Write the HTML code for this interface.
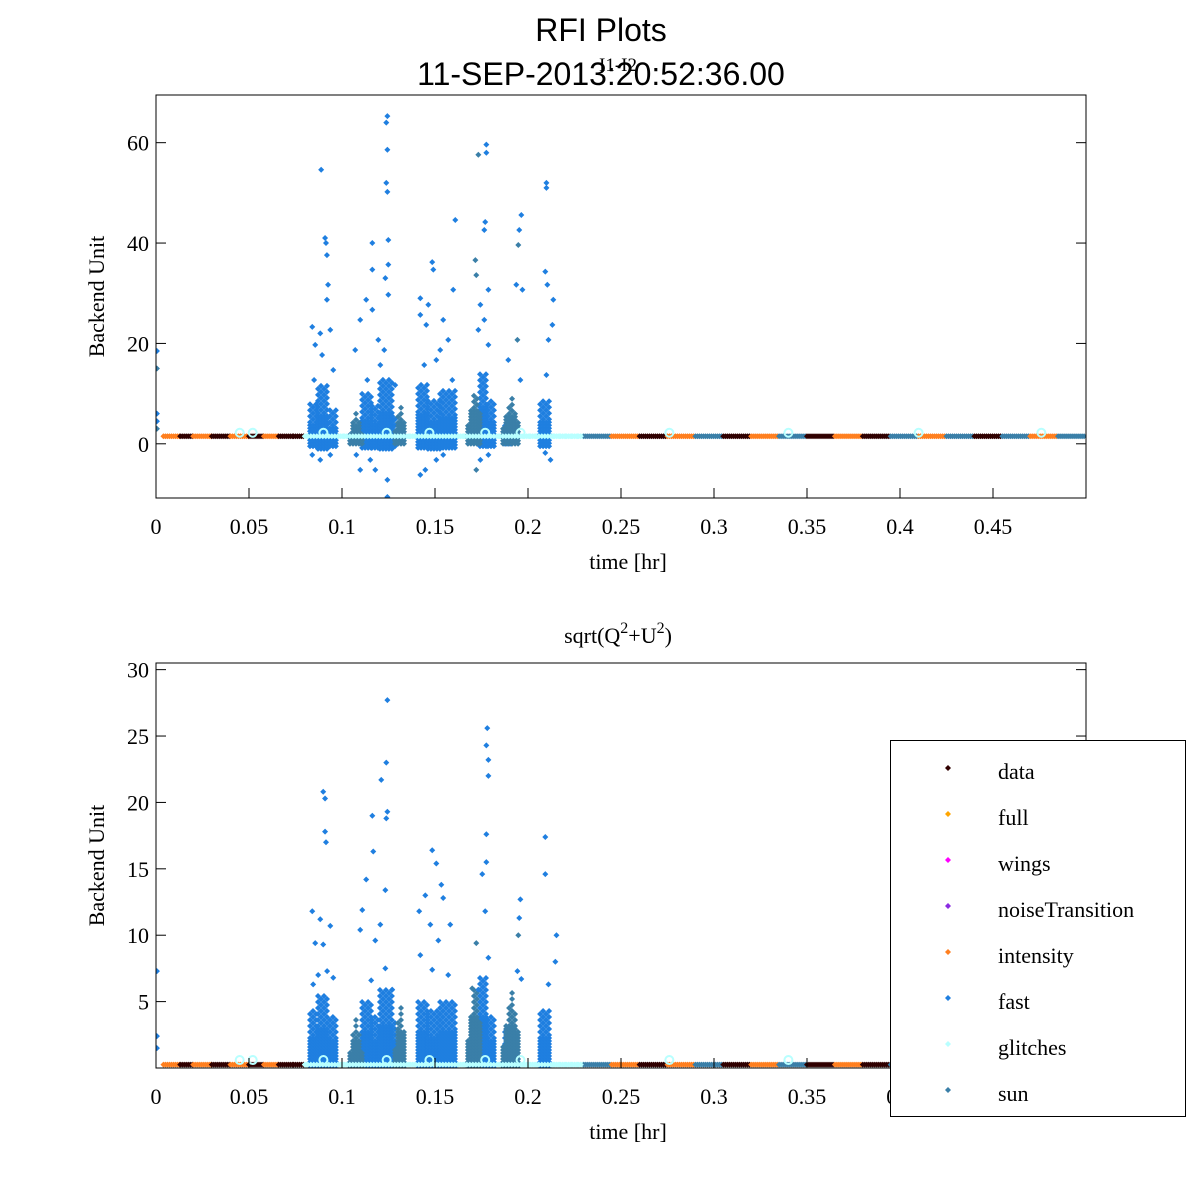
<!DOCTYPE html>
<html><head><meta charset="utf-8">
<style>
html,body{margin:0;padding:0;background:#fff;}
svg{display:block;}
text{font-family:"Liberation Serif",serif;fill:#000;}
.ttl{font-family:"Liberation Sans",sans-serif;}
</style></head>
<body>
<svg id="chart" width="1200" height="1200" viewBox="0 0 1200 1200">
<rect x="0" y="0" width="1200" height="1200" fill="#fff"/>
<text class="ttl" x="601" y="41" font-size="32" text-anchor="middle">RFI Plots</text>
<text class="ttl" x="601" y="85" font-size="32" text-anchor="middle">11-SEP-2013:20:52:36.00</text>
<text x="618" y="71" font-size="19" text-anchor="middle">I1-I2</text>
<g id="top"></g>
<g id="bot"></g>
<text x="618" y="643" font-size="22" text-anchor="middle">sqrt(Q<tspan dy="-10" font-size="16">2</tspan><tspan dy="10">+U</tspan><tspan dy="-10" font-size="16">2</tspan><tspan dy="10">)</tspan></text>
<g id="legend"></g>
</svg>
<script>
// ---------- data ----------
const seriesNames = ['data','full','wings','noiseTransition','intensity','fast','glitches','sun'];
const seriesColors = ['#300000','#ffa500','#ff00ff','#8a2be2','#ff7f1f','#1f7fe0','#b8ffff','#3a7fa8'];
const xTicks = [0,0.05,0.1,0.15,0.2,0.25,0.3,0.35,0.4,0.45];
const xTickLabels = ['0','0.05','0.1','0.15','0.2','0.25','0.3','0.35','0.4','0.45'];
const topYTicks = [0,20,40,60];
const botYTicks = [5,10,15,20,25,30];

// baseline segments: start time, end time, series
const baseT0 = [0.004,0.013,0.02,0.03,0.04,0.05,0.058,0.066,0.074,0.08,0.23,0.245,0.26,0.275,0.29,0.305,0.32,0.335,0.35,0.365,0.38,0.395,0.41,0.425,0.44,0.455,0.47,0.485];
const baseT1 = [0.013,0.02,0.03,0.04,0.05,0.058,0.066,0.074,0.08,0.23,0.245,0.26,0.275,0.29,0.305,0.32,0.335,0.35,0.365,0.38,0.395,0.41,0.425,0.44,0.455,0.47,0.485,0.5];
const baseS  = ['intensity','data','intensity','data','intensity','data','intensity','data','data','glitches','sun','intensity','data','intensity','sun','data','intensity','sun','data','intensity','data','sun','intensity','sun','data','sun','intensity','sun'];
const topBaseV = 1.5;
const botBaseV = 0.25;

// dense blobs: start, end, lower value, upper value, series
const blobT0 = [0.0828,0.0871,0.0935,0.1108,0.1161,0.1204,0.1269,0.1409,0.1462,0.1527,0.1742,0.1785,0.1876,0.2065,0.1043,0.1285,0.1677,0.1866];
const blobT1 = [0.0871,0.0935,0.0978,0.1161,0.1204,0.1269,0.1301,0.1462,0.1527,0.1608,0.1785,0.1823,0.1914,0.2118,0.1108,0.1344,0.1753,0.1957];
const blobS  = ['fast','fast','fast','fast','fast','fast','fast','fast','fast','fast','fast','fast','fast','fast','sun','sun','sun','sun'];
const topBlobLo = [-0.5,-1,-0.5,-0.8,-0.8,-1,-0.5,-0.8,-1,-0.8,-0.5,-0.5,0,-0.5,0,0,0,0];
const topBlobHi = [8,12,7,10,8,13,6,12,9,11,14,9,4,9,7,8,12,10];
const botBlobLo = [0,0,0,0,0,0,0,0,0,0,0,0,0,0,0,0,0,0];
const botBlobHi = [4.5,5.5,4,5,4,6,3.5,5,4.5,5,7,4,3,4.5,4,5,7,6];

// outliers (fast)
const topFastT = [0.0888,0.0909,0.0914,0.0919,0.0925,0.0919,0.0840,0.0883,0.0937,0.0856,0.0893,0.0850,0.0953,0.0840,0.0883,0.0937,
 0.1244,0.1238,0.1244,0.1238,0.1244,0.1163,0.1249,0.1163,0.1249,0.1233,0.1249,0.1130,0.1163,0.1098,0.1195,0.1227,0.1071,0.1206,0.1136,0.1286,0.1077,0.1152,0.1244,0.1244,0.1179,0.1098,
 0.1609,0.1485,0.1491,0.1421,0.1464,0.1421,0.1453,0.1544,0.1598,0.1571,0.1528,0.1507,0.1442,0.1593,0.1448,0.1421,0.1507,0.1544,
 0.1776,0.1776,0.1770,0.1765,0.1787,0.1744,0.1765,0.1733,0.1787,0.1744,0.1787,
 0.1964,0.1953,0.1937,0.1970,0.1894,0.1959,
 0.2099,0.2099,0.2093,0.2104,0.2136,0.2131,0.2110,0.2099,0.2121,0.2093,0.0005,0.0005,0.0005];
const topFastV = [54.6,41,40,37.6,31.7,28.7,23.3,22,22.7,19.7,17.7,12.7,14.7,-2.2,-3.2,-2.2,
 65.3,64,58.6,52,50.2,40,40.6,34.7,35.7,33,29.7,28.7,26.7,24.7,20.7,18.7,18.7,15.7,12.7,11.7,-2.2,-3.2,-7.2,-10.6,-5.2,-5.2,
 44.6,36.2,34.7,29,27.7,25.7,23.7,24.7,30.7,20.7,18.7,16.7,15.7,12.7,-5.2,-6.2,-3.2,-2.2,
 59.6,58,44.2,42.6,30.7,27.7,24.7,22.7,19.7,-3.2,-2.2,
 45.6,42.6,31.7,30.7,16.7,12.7,
 52,51,34.3,31.7,28.7,23.7,20.7,13.7,-3.2,-1.8,18.5,6,4.5];
const topSunT = [0.1733,0.1717,0.1722,0.1948,0.1943,0.1722,0.0005,0.0005];
const topSunV = [57.6,36.6,-5.2,39.6,20.7,33.6,15,3];
const botFastT = [0.0899,0.0909,0.0909,0.0914,0.0840,0.0883,0.0937,0.0856,0.0899,0.0920,0.0872,0.0953,0.0845,
 0.1244,0.1238,0.1211,0.1244,0.1238,0.1163,0.1168,0.1130,0.1233,0.1109,0.1206,0.1098,0.1179,0.1233,0.1157,0.1270,
 0.1485,0.1507,0.1448,0.1534,0.1544,0.1415,0.1475,0.1518,0.1582,0.1421,0.1485,0.1571,
 0.1781,0.1776,0.1787,0.1787,0.1776,0.1776,0.1754,0.1770,0.1787,0.1733,
 0.1959,0.1953,0.1943,0.1964,
 0.2093,0.2093,0.2153,0.2147,0.2110,0.0005,0.0005,0.0005];
const botFastV = [20.8,20.3,17.8,17,11.8,11.2,10.7,9.4,9.3,7.3,7,6.8,6.3,
 27.7,23,21.7,19.3,18.8,19,16.3,14.2,13.4,11.9,10.8,10.4,9.6,7.5,6.6,5.9,
 16.4,15.4,13,13.8,12.8,11.8,10.8,9.6,10.8,8.5,7.4,7,
 25.6,24.3,23.2,22,17.6,15.5,14.6,11.8,8.3,5.9,
 12.7,11.3,7.3,6.7,
 17.4,14.6,10,8,6.3,7.3,2.4,1.5];
const botSunT = [0.1722,0.1948,0.1700];
const botSunV = [9.4,10,6];
// glitch circles on baseline
const glitchT = [0.045,0.052,0.09,0.124,0.147,0.177,0.196,0.276,0.34,0.41,0.476];

// ---------- rendering ----------
const NS='http://www.w3.org/2000/svg';
function mk(tag,attrs,parent){const e=document.createElementNS(NS,tag);for(const k in attrs)e.setAttribute(k,attrs[k]);parent.appendChild(e);return e;}
const colorOf = s => seriesColors[seriesNames.indexOf(s)];

function makeAxes(x0,x1,y0,y1,vmin,vmax){
  return {x:t=>x0+(t-0)/(0.5-0)*(x1-x0), y:v=>y1-(v-vmin)/(vmax-vmin)*(y1-y0)};
}
function marker(g,px,py,color,name){
  const p=mk('path',{d:`M${px-3},${py}L${px},${py-3}L${px+3},${py}L${px},${py+3}Z`,fill:color},g);
  
  
  return p;
}

function drawPlot(gid,box,vmin,vmax,yTicks,baseV,blobLo,blobHi,fastT,fastV,sunT,sunV,glV){
  const g=document.getElementById(gid);
  const [x0,y0,x1,y1]=box;
  const ax=makeAxes(x0,x1,y0,y1,vmin,vmax);
  const clip='clip-'+gid;
  const cp=mk('clipPath',{id:clip},g); mk('rect',{x:x0,y:y0,width:x1-x0,height:y1-y0},cp);
  const marks=mk('g',{'clip-path':`url(#${clip})`},g);
  
  
  // baseline
  for(let i=0;i<baseT0.length;i++){
    const c=colorOf(baseS[i]);
    for(let px=ax.x(baseT0[i]);px<ax.x(baseT1[i]);px+=2){
      marker(marks,px,ax.y(baseV),c,'baseline-point-'+baseS[i]);
    }
  }
  // blobs
  for(let i=0;i<blobT0.length;i++){
    const c=colorOf(blobS[i]);
    const xa=ax.x(blobT0[i]), xb=ax.x(blobT1[i]);
    const ya=ax.y(blobHi[i]), yb=ax.y(blobLo[i]);
    const yMid=yb-(yb-ya)*0.55;
    let col=0;
    for(let px=xa;px<=xb;px+=3,col++){
      let top=ya;
      if(blobS[i]==='sun'){const f=1-Math.abs((px-xa)/(xb-xa)*2-1);top=yb-(yb-ya)*(0.3+0.7*f);}
      for(let py=yb;py>=top;py-=3){
        if(py<yMid && ((Math.round((yb-py)/3)+col)%2===1)) continue;
        marker(marks,px,py,c,'blob-point-'+blobS[i]);
      }
    }
  }
  // glitches on baseline between 0.08 and 0.23
  for(let px=ax.x(0.08);px<ax.x(0.23);px+=3) marker(marks,px,ax.y(baseV),colorOf('glitches'),'glitch-point');
  for(let i=0;i<glitchT.length;i++){
    const c=mk('circle',{cx:ax.x(glitchT[i]),cy:ax.y(glV),r:4,fill:'none',stroke:colorOf('glitches'),'stroke-width':2},marks);
    
    
  }
  for(let i=0;i<fastT.length;i++) marker(marks,ax.x(fastT[i]),ax.y(fastV[i]),colorOf('fast'),'fast-point');
  for(let i=0;i<sunT.length;i++) marker(marks,ax.x(sunT[i]),ax.y(sunV[i]),colorOf('sun'),'sun-point');
  // frame
  const fr=mk('rect',{x:x0,y:y0,width:x1-x0,height:y1-y0,fill:'none',stroke:'#000','stroke-width':1},g);
  
  
  // x ticks
  for(let i=0;i<xTicks.length;i++){
    const px=ax.x(xTicks[i]);
    mk('line',{x1:px,x2:px,y1:y1,y2:y1-10,stroke:'#000'},g);
    const t=mk('text',{x:px,y:y1+36,'font-size':22,'text-anchor':'middle'},g);
    t.textContent=xTickLabels[i];
    
    
  }
  // y ticks
  for(let i=0;i<yTicks.length;i++){
    const py=ax.y(yTicks[i]);
    mk('line',{x1:x0,x2:x0+10,y1:py,y2:py,stroke:'#000'},g);
    mk('line',{x1:x1,x2:x1-10,y1:py,y2:py,stroke:'#000'},g);
    const t=mk('text',{x:x0-7,y:py+8,'font-size':22,'text-anchor':'end'},g);
    t.textContent=String(yTicks[i]);
    
    
  }
  const xl=mk('text',{x:(x0+x1)/2+7,y:y1+71,'font-size':22,'text-anchor':'middle'},g);
  xl.textContent='time [hr]';
  
  
  const yl=mk('text',{x:0,y:0,'font-size':22,'text-anchor':'middle',transform:`translate(104,${(y0+y1)/2}) rotate(-90)`},g);
  yl.textContent='Backend Unit';
  
  
}

drawPlot('top',[156,95,1086,498],-10.8,69.5,topYTicks,topBaseV,topBlobLo,topBlobHi,topFastT,topFastV,topSunT,topSunV,2.2);
drawPlot('bot',[156,663,1086,1068],0,30.5,botYTicks,botBaseV,botBlobLo,botBlobHi,botFastT,botFastV,botSunT,botSunV,0.6);

// legend
const lg=document.getElementById('legend');
const lb=mk('rect',{x:890.5,y:740.5,width:295,height:376,fill:'#fff',stroke:'#000'},lg);


for(let i=0;i<seriesNames.length;i++){
  const yy=772+i*46;
  const e=mk('g',{},lg);
  
  
  marker(e,948,yy-4,seriesColors[i],'legend-marker');
  const t=mk('text',{x:998,y:yy+7,'font-size':22},e);
  t.textContent=seriesNames[i];
  
  
}
</script>
</body></html>
